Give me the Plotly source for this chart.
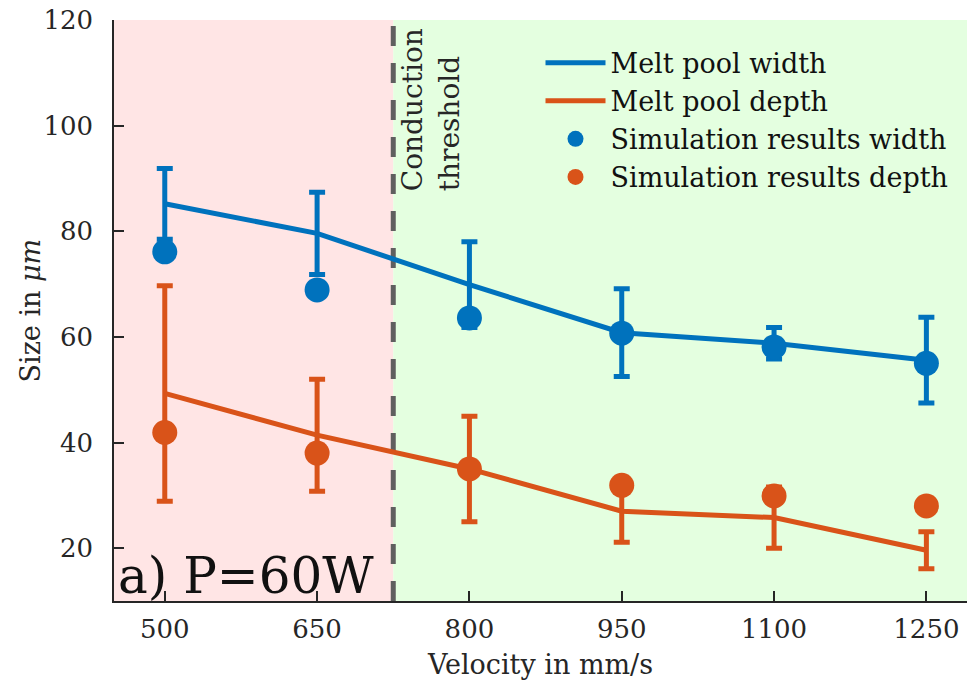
import plotly.graph_objects as go

velocity = [500, 650, 800, 950, 1100, 1250]
width_mean = [85.2, 79.6, 69.9, 60.8, 58.8, 55.6]
width_err = [6.7, 7.8, 8.1, 8.3, 3.0, 8.1]
depth_mean = [49.3, 41.4, 35.0, 27.0, 25.8, 19.6]
depth_err = [20.4, 10.6, 10.0, 5.9, 5.8, 3.5]
sim_width = [76.1, 68.9, 63.6, 60.7, 58.1, 55.0]
sim_depth = [41.9, 38.0, 35.0, 31.9, 29.9, 28.0]
x_ticks = [500, 650, 800, 950, 1100, 1250]
y_ticks = [20, 40, 60, 80, 100, 120]
threshold = 725
x_range = [450, 1290]
y_range = [10, 120]

BLUE = "#0072BD"
ORANGE = "#D95319"
FONT = "DejaVu Serif"
TXT = "#262626"

fig = go.Figure()

fig.add_trace(go.Scatter(
    x=velocity, y=width_mean, mode="lines", name="Melt pool width",
    line=dict(color=BLUE, width=5),
    error_y=dict(type="data", array=width_err, visible=True, color=BLUE, thickness=5, width=8),
))
fig.add_trace(go.Scatter(
    x=velocity, y=depth_mean, mode="lines", name="Melt pool depth",
    line=dict(color=ORANGE, width=5),
    error_y=dict(type="data", array=depth_err, visible=True, color=ORANGE, thickness=5, width=8),
))
fig.add_trace(go.Scatter(
    x=velocity, y=sim_width, mode="markers", name="Simulation results width",
    marker=dict(color=BLUE, size=25),
))
fig.add_trace(go.Scatter(
    x=velocity, y=sim_depth, mode="markers", name="Simulation results depth",
    marker=dict(color=ORANGE, size=25),
))

fig.add_shape(type="rect", xref="x", yref="paper", x0=x_range[0], x1=threshold, y0=0, y1=1,
              fillcolor="#FFE5E5", line=dict(width=0), layer="below")
fig.add_shape(type="rect", xref="x", yref="paper", x0=threshold, x1=x_range[1], y0=0, y1=1,
              fillcolor="#E4FFE0", line=dict(width=0), layer="below")
fig.add_shape(type="line", xref="x", yref="paper", x0=threshold, x1=threshold, y0=0, y1=1,
              line=dict(color="#5F5F5F", width=5, dash="20px,17px"), layer="below")

fig.add_annotation(x=threshold, xref="x", y=1, yref="paper", xanchor="left", yanchor="top",
                   xshift=1, yshift=-6, text="Conduction<br>threshold", textangle=-90,
                   align="left", showarrow=False, font=dict(family=FONT, size=28, color=TXT))
fig.add_annotation(x=0, xref="paper", y=0, yref="paper", xanchor="left", yanchor="bottom",
                   xshift=2, yshift=-6, text="a) P=60W", showarrow=False,
                   font=dict(family=FONT, size=50, color="#111111"))
fig.add_annotation(x=0, xref="paper", y=0.5, yref="paper", xanchor="center", yanchor="middle",
                   xshift=-84, text="Size in <i>μm</i>", textangle=-90, showarrow=False,
                   font=dict(family=FONT, size=27, color=TXT))

fig.update_layout(
    width=969, height=686,
    margin=dict(l=114, r=2, t=20, b=85),
    paper_bgcolor="white", plot_bgcolor="white",
    font=dict(family=FONT, size=26, color=TXT),
    showlegend=True,
    legend=dict(x=0.5, y=0.968, xanchor="left", yanchor="top", bgcolor="rgba(0,0,0,0)",
                font=dict(family=FONT, size=27, color="#111111"), tracegroupgap=0, itemwidth=60),
    xaxis=dict(range=x_range, tickvals=x_ticks, ticktext=[str(v) for v in x_ticks],
               showgrid=False, zeroline=False, showline=True, linecolor=TXT, linewidth=1.5,
               ticks="inside", ticklen=10, tickcolor=TXT, tickwidth=1.5,
               tickfont=dict(family=FONT, size=26, color=TXT), ticklabelstandoff=4,
               title=dict(text="Velocity in mm/s", font=dict(family=FONT, size=27, color=TXT), standoff=12)),
    yaxis=dict(range=y_range, tickvals=y_ticks, ticktext=[str(v) for v in y_ticks],
               showgrid=False, zeroline=False, showline=True, linecolor=TXT, linewidth=1.5,
               ticks="inside", ticklen=10, tickcolor=TXT, tickwidth=1.5,
               tickfont=dict(family=FONT, size=26, color=TXT), ticklabelstandoff=14),
)

fig.write_html("out.html")
